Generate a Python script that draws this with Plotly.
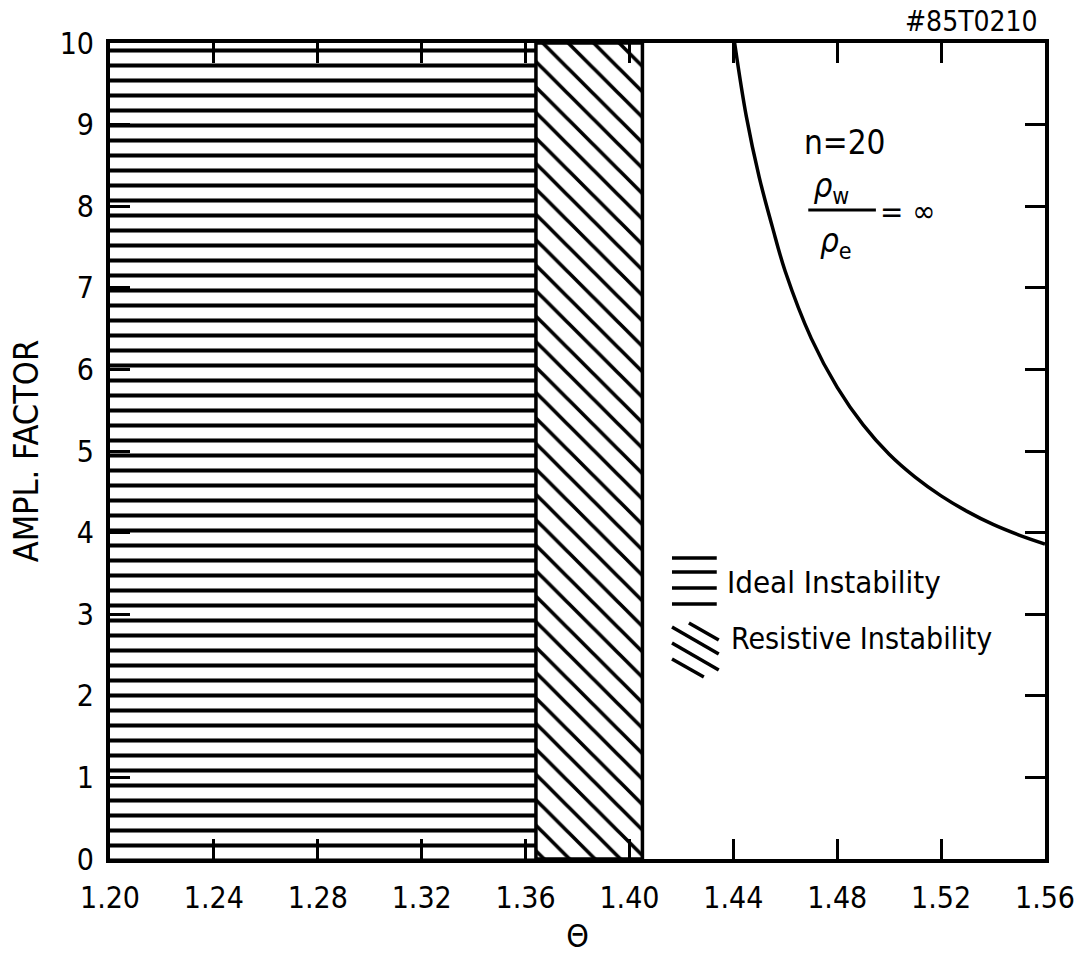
import plotly.graph_objects as go

# ---- data ----
theta = [1.4405, 1.445, 1.450, 1.455, 1.460, 1.470, 1.480, 1.490, 1.500,
         1.510, 1.520, 1.530, 1.540, 1.550, 1.560]
ampl = [10.0, 9.1, 8.35, 7.75, 7.2, 6.38, 5.78, 5.32, 4.96,
        4.68, 4.45, 4.26, 4.10, 3.97, 3.86]

ideal_range = [1.20, 1.364]       # horizontally hatched region (Θ)
resistive_range = [1.364, 1.405]  # diagonally hatched region (Θ)
y_range = [0, 10]

x_ticks = [1.20, 1.24, 1.28, 1.32, 1.36, 1.40, 1.44, 1.48, 1.52, 1.56]
x_ticklabels = ["1.20", "1.24", "1.28", "1.32", "1.36", "1.40", "1.44", "1.48", "1.52", "1.56"]
y_ticks = [0, 1, 2, 3, 4, 5, 6, 7, 8, 9, 10]
y_ticklabels = ["0", "1", "2", "3", "4", "5", "6", "7", "8", "9", "10"]

FONT = "Liberation Sans Narrow, DejaVu Sans Condensed, Arial Narrow, DejaVu Sans, sans-serif"

def rect(xr, yr):
    return ([xr[0], xr[1], xr[1], xr[0], xr[0]],
            [yr[0], yr[0], yr[1], yr[1], yr[0]])

fig = go.Figure()

ix, iy = rect(ideal_range, y_range)
fig.add_trace(go.Scatter(
    x=ix, y=iy, mode="lines", fill="toself", line=dict(width=0, color="black"),
    fillcolor="white", opacity=1,
    fillpattern=dict(shape="-", size=15, solidity=0.27, fgcolor="#000000",
                     bgcolor="#ffffff", fgopacity=1, fillmode="replace"),
    hoverinfo="skip", showlegend=False))

rx, ry = rect(resistive_range, y_range)
fig.add_trace(go.Scatter(
    x=rx, y=ry, mode="lines", fill="toself", line=dict(width=3.5, color="black"),
    fillcolor="white", opacity=1,
    fillpattern=dict(shape="\\", size=18, solidity=0.2, fgcolor="#000000",
                     bgcolor="#ffffff", fgopacity=1, fillmode="replace"),
    hoverinfo="skip", showlegend=False))

fig.add_trace(go.Scatter(
    x=theta, y=ampl, mode="lines", line=dict(color="black", width=3.5, shape="spline"),
    hoverinfo="skip", showlegend=False))

# ---- legend-like swatches and labels (paper coords from pixel positions) ----
def px2paper(px, py):
    return (px - 110) / 940, (859 - py) / 816

shapes = []
for py in [558, 572, 588, 604]:
    x0, y0 = px2paper(675, py)
    x1, y1 = px2paper(720, py)
    shapes.append(dict(type="line", xref="paper", yref="paper", x0=x0, y0=y0, x1=x1, y1=y1,
                       line=dict(color="black", width=3.5)))
# backslash-direction strokes: top-left -> bottom-right
for (a, b, c, d) in [(692, 623, 722, 640), (675, 627, 722, 654), (675, 643, 722, 670), (675, 659, 707, 677)]:
    x0, y0 = px2paper(a, b)
    x1, y1 = px2paper(c, d)
    shapes.append(dict(type="line", xref="paper", yref="paper", x0=x0, y0=y0, x1=x1, y1=y1,
                       line=dict(color="black", width=3.5)))
# fraction bar of rho_w / rho_e
x0, y0 = px2paper(812, 210)
x1, y1 = px2paper(880, 210)
shapes.append(dict(type="line", xref="paper", yref="paper", x0=x0, y0=y0, x1=x1, y1=y1,
                   line=dict(color="black", width=3)))

annotations = []
def ann(text, px, py, size, xanchor="center", yanchor="middle", align="center"):
    x, y = px2paper(px, py)
    annotations.append(dict(text=text, x=x, y=y, xref="paper", yref="paper",
                            xanchor=xanchor, yanchor=yanchor, showarrow=False, align=align,
                            font=dict(family=FONT, size=size, color="black")))

ann("Ideal Instability", 728, 582, 31, xanchor="left")
ann("Resistive Instability", 732, 638, 30, xanchor="left")
ann("n=20<br> <i>ρ</i><sub>w</sub>", 806, 166, 33, xanchor="left", align="left")
ann("<i>ρ</i><sub>e</sub>", 840, 242, 33)
ann("= ∞", 882, 211, 31, xanchor="left")
ann("#85T0210", 1045, 21, 28, xanchor="right")

fig.update_layout(
    width=1087, height=961,
    margin=dict(l=110, r=37, t=43, b=102),
    paper_bgcolor="white", plot_bgcolor="white",
    font=dict(family=FONT, size=30, color="black"),
    shapes=shapes, annotations=annotations,
    xaxis=dict(range=[1.20, 1.56], tickvals=x_ticks, ticktext=x_ticklabels,
               ticks="inside", ticklen=20, tickwidth=3, tickcolor="black",
               showline=True, linewidth=4, linecolor="black", mirror="ticks",
               showgrid=False, zeroline=False, ticklabelstandoff=9,
               title=dict(text="Θ", font=dict(size=32), standoff=12)),
    yaxis=dict(range=[0, 10], tickvals=y_ticks, ticktext=y_ticklabels,
               ticks="inside", ticklen=20, tickwidth=3, tickcolor="black",
               showline=True, linewidth=4, linecolor="black", mirror="ticks",
               showgrid=False, zeroline=False, ticklabelstandoff=6,
               title=dict(text="AMPL. FACTOR", font=dict(size=34), standoff=12)),
)

fig.write_html("out.html")
